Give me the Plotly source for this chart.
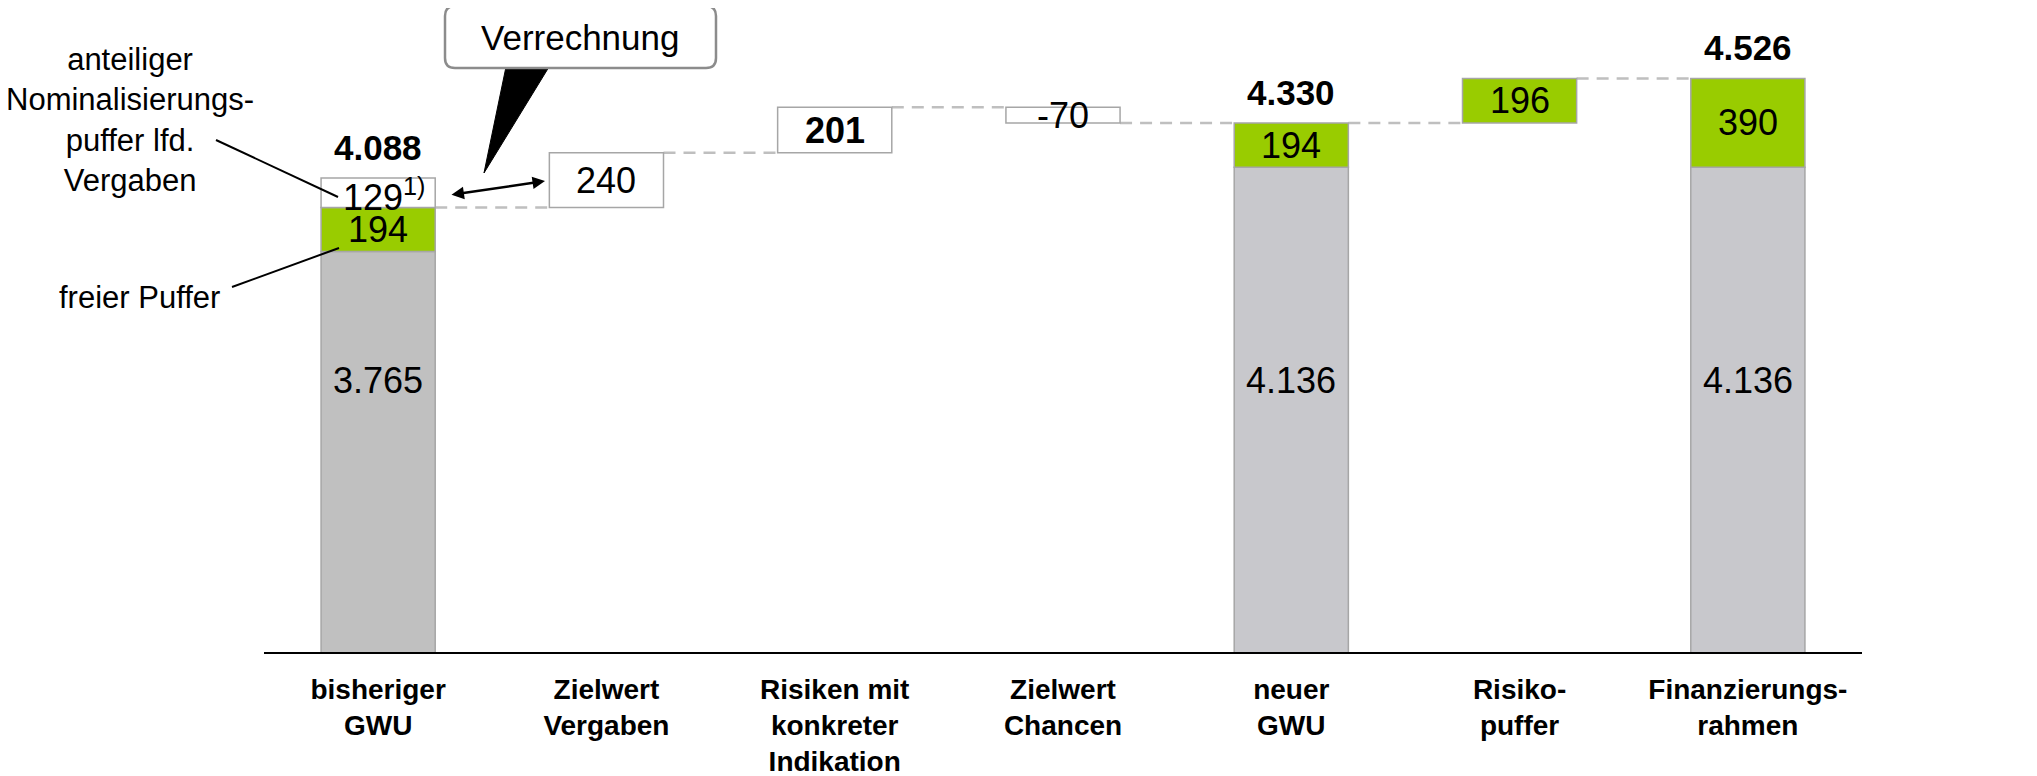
import plotly.graph_objects as go

# ---------------- data ----------------
categories = ["bisheriger<br>GWU", "Zielwert<br>Vergaben", "Risiken mit<br>konkreter<br>Indikation",
              "Zielwert<br>Chancen", "neuer<br>GWU", "Risiko-<br>puffer", "Finanzierungs-<br>rahmen"]
total_idx = [0, 4, 6]
base_gwu = [3765, 4136, 4136]          # grey part of the stacked columns
free_buffer = [194, 194, 390]          # green part of the stacked columns
nominal_buffer = 129                   # white part on top of the first column
step_idx = [1, 2, 3]
step_values = [240, 201, -70]          # floating steps
step_bold = [False, True, False]
risk_idx = 5
risk_buffer = 196
totals = [4088, 4330, 4526]

# ---------------- style / layout constants ----------------
OFF = 8                                   # page body margin of the html page
W, H = 2037 - OFF, 776 - OFF
ML, PW = 264 - OFF, 1598
PT, PH = 20 - OFF, 632
MR = W - ML - PW
MB = H - PT - PH
Y0, SCALE = 2005, 0.2275                # axis floor value, px per unit
Y1 = Y0 + PH / SCALE
GRAY_LABEL_LEVEL = 3200
FONT = "Liberation Sans, Arial, sans-serif"
GREEN = "#99CC00"
OUTLINE = "#A6A6A6"
GRAYS = ["#C0C0C0", "#C8C8CC", "#C8C8CC"]
BAR_W = 0.5


def fmt(v):
    return f"{v:,}".replace(",", ".")


# helpers converting target-picture pixels to paper coordinates
def pxx(x):
    return (x - OFF - ML) / PW


def pxy(y):
    return (PT + PH - (y - OFF)) / PH


fig = go.Figure()

# grey base columns
fig.add_trace(go.Bar(x=total_idx, y=base_gwu, base=0, width=BAR_W,
                     marker=dict(color=GRAYS, line=dict(color=OUTLINE, width=1.5)),
                     hoverinfo="skip"))
# green buffer
fig.add_trace(go.Bar(x=total_idx, y=free_buffer, base=base_gwu, width=BAR_W,
                     marker=dict(color=GREEN, line=dict(color=OUTLINE, width=1.5)),
                     hoverinfo="skip"))
# white nominal buffer on first column
start_level = base_gwu[0] + free_buffer[0]
fig.add_trace(go.Bar(x=[0], y=[nominal_buffer], base=[start_level], width=BAR_W,
                     marker=dict(color="white", line=dict(color=OUTLINE, width=1.5)),
                     hoverinfo="skip"))
# floating steps
step_bases = []
lvl = start_level
for v in step_values:
    step_bases.append(lvl)
    lvl += v
fig.add_trace(go.Bar(x=step_idx, y=step_values, base=step_bases, width=BAR_W,
                     marker=dict(color="white", line=dict(color=OUTLINE, width=1.5)),
                     hoverinfo="skip"))
# risk buffer step
risk_base = lvl
fig.add_trace(go.Bar(x=[risk_idx], y=[risk_buffer], base=[risk_base], width=BAR_W,
                     marker=dict(color=GREEN, line=dict(color=OUTLINE, width=1.5)),
                     hoverinfo="skip"))

annotations = []
shapes = []

# labels inside grey bars
for i, v in zip(total_idx, base_gwu):
    annotations.append(dict(x=i, y=GRAY_LABEL_LEVEL, text=fmt(v), showarrow=False,
                            font=dict(size=36, color="black", family=FONT)))
# labels in green segments
for i, b, v in zip(total_idx, base_gwu, free_buffer):
    annotations.append(dict(x=i, y=b + v / 2, text=fmt(v), showarrow=False,
                            font=dict(size=36, color="black", family=FONT)))
# nominal buffer label
annotations.append(dict(x=0, y=start_level + nominal_buffer / 2, text=f"{nominal_buffer}<sup>1)</sup>",
                        showarrow=False, xshift=6, yshift=-2,
                        font=dict(size=36, color="black", family=FONT)))
# step labels
for i, b, v, bold in zip(step_idx, step_bases, step_values, step_bold):
    annotations.append(dict(x=i, y=b + v / 2, text=(f"<b>{fmt(v)}</b>" if bold else fmt(v)),
                            showarrow=False, font=dict(size=36, color="black", family=FONT)))
annotations.append(dict(x=risk_idx, y=risk_base + risk_buffer / 2, text=fmt(risk_buffer),
                        showarrow=False, font=dict(size=36, color="black", family=FONT)))
# totals
for i, t in zip(total_idx, totals):
    annotations.append(dict(x=i, y=t, text=f"<b>{fmt(t)}</b>", showarrow=False,
                            yanchor="bottom", yshift=9,
                            font=dict(size=35, color="black", family=FONT)))

# dashed connectors
levels = [start_level]
for v in step_values:
    levels.append(levels[-1] + v)
levels.append(levels[-1])
levels.append(levels[-1] + risk_buffer)
for i in range(6):
    shapes.append(dict(type="line", xref="x", yref="y", x0=i + BAR_W / 2, x1=i + 1 - BAR_W / 2,
                       y0=levels[i], y1=levels[i], layer="below",
                       line=dict(color="#BFBFBF", width=2.5, dash="12px,8px")))

# left-hand explanatory texts with leader lines
annotations.append(dict(xref="paper", yref="paper", x=pxx(130), y=pxy(120), showarrow=False,
                        xanchor="center", yanchor="middle",
                        text="anteiliger<br>Nominalisierungs-<br>puffer lfd.<br>Vergaben",
                        align="center", font=dict(size=31, color="black", family=FONT)))
annotations.append(dict(xref="paper", yref="paper", x=pxx(139), y=pxy(297), showarrow=False,
                        xanchor="center", yanchor="middle",
                        text="freier Puffer", font=dict(size=31, color="black", family=FONT)))
shapes.append(dict(type="line", xref="paper", yref="paper", x0=pxx(216), y0=pxy(140),
                   x1=pxx(338), y1=pxy(197), line=dict(color="black", width=2)))
shapes.append(dict(type="line", xref="paper", yref="paper", x0=pxx(232), y0=pxy(287),
                   x1=pxx(339), y1=pxy(248), line=dict(color="black", width=2)))

# callout "Verrechnung"
tri = [(507, 62), (552, 62), (484, 173)]
shapes.append(dict(type="path", xref="paper", yref="paper",
                   path="M " + " L ".join(f"{pxx(a):.5f},{pxy(b):.5f}" for a, b in tri) + " Z",
                   fillcolor="black", line=dict(color="black", width=1)))
bx0, bx1, by0, by1, r = 445, 716, 6, 68, 10
pts = [("M", [(bx0 + r, by0)]), ("L", [(bx1 - r, by0)]), ("Q", [(bx1, by0), (bx1, by0 + r)]),
       ("L", [(bx1, by1 - r)]), ("Q", [(bx1, by1), (bx1 - r, by1)]), ("L", [(bx0 + r, by1)]),
       ("Q", [(bx0, by1), (bx0, by1 - r)]), ("L", [(bx0, by0 + r)]), ("Q", [(bx0, by0), (bx0 + r, by0)])]
path = " ".join(c + " " + " ".join(f"{pxx(a):.5f},{pxy(b):.5f}" for a, b in p) for c, p in pts) + " Z"
shapes.append(dict(type="path", xref="paper", yref="paper", path=path, fillcolor="white",
                   line=dict(color="#8C8C8C", width=2.5)))
annotations.append(dict(xref="paper", yref="paper", x=pxx(580), y=pxy(37), showarrow=False,
                        xanchor="center", yanchor="middle",
                        text="Verrechnung", font=dict(size=35, color="black", family=FONT)))

# double arrow
annotations.append(dict(xref="paper", yref="paper", x=pxx(545), y=pxy(181), ax=-95, ay=14,
                        text="", showarrow=True, arrowside="end+start", arrowhead=2,
                        startarrowhead=2, arrowsize=1, startarrowsize=1, arrowwidth=2.5,
                        arrowcolor="black", standoff=0, startstandoff=0))

fig.update_layout(
    width=W, height=H, margin=dict(l=ML, r=MR, t=PT, b=MB, autoexpand=False),
    paper_bgcolor="white", plot_bgcolor="white", barmode="overlay", showlegend=False,
    font=dict(family=FONT, color="black"),
    xaxis=dict(range=[-0.5, 6.5], tickmode="array", tickvals=list(range(7)), ticktext=categories,
               tickfont=dict(size=28, color="black", family=FONT, weight="bold"),
               showline=True, linecolor="black", linewidth=2, ticks="", showgrid=False,
               zeroline=False, ticklabelstandoff=11, automargin=False),
    yaxis=dict(range=[Y0, Y1], visible=False, showgrid=False, zeroline=False, automargin=False),
    annotations=annotations, shapes=shapes,
)

fig.write_html("out.html")
